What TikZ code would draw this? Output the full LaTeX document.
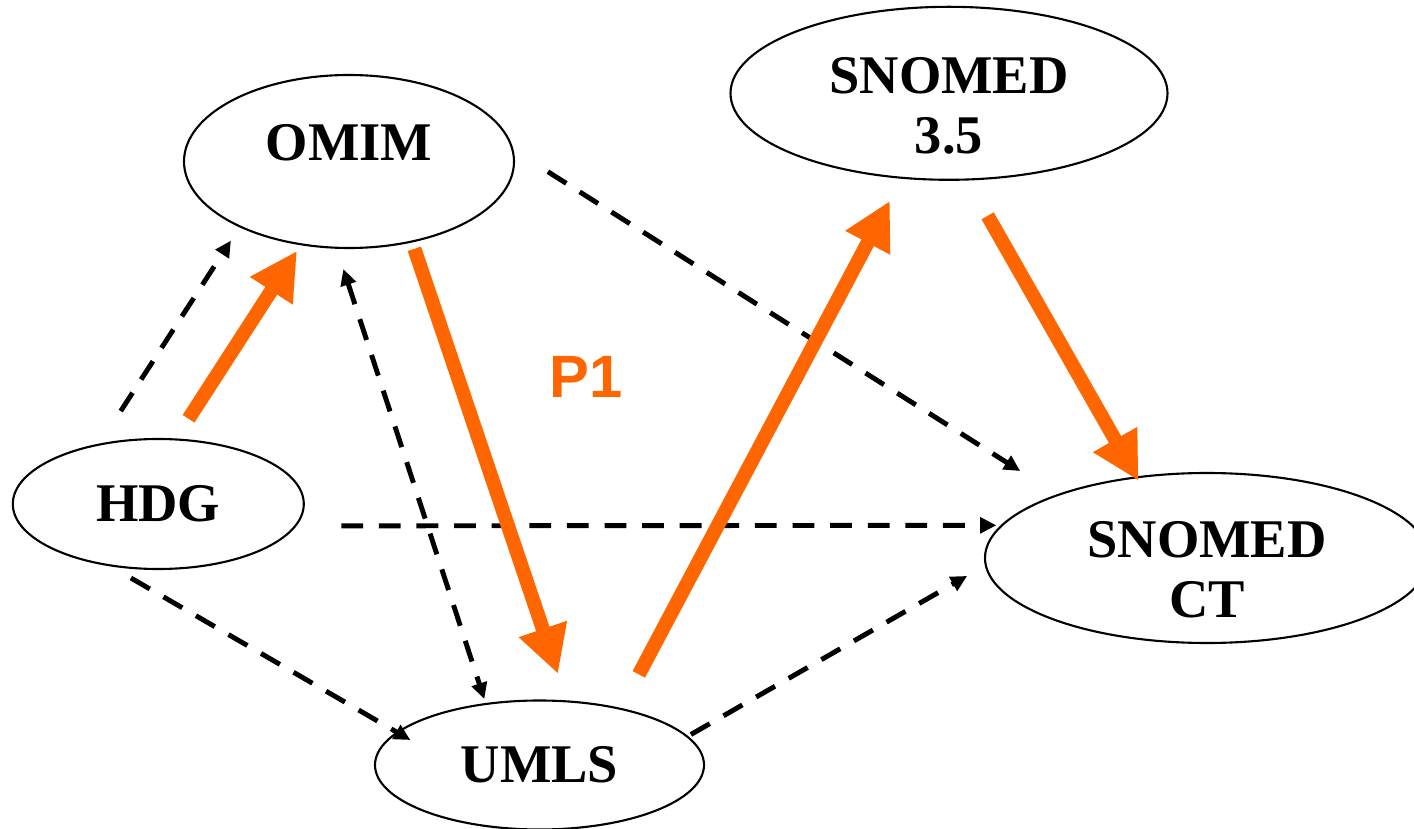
\documentclass[tikz,border=0pt]{standalone}
\usepackage{fontspec}
\setmainfont{Liberation Serif}
\setsansfont{Liberation Sans}
\usepackage{tikz}
\usetikzlibrary{arrows.meta,shapes.geometric}
\definecolor{porange}{RGB}{255,102,0}

\begin{document}
\begin{tikzpicture}[
  ell/.style={ellipse, draw=black, line width=0.6pt, inner sep=0pt, align=center,
    font=\fontsize{15.5}{17}\selectfont\bfseries},
  twoline/.style={text height=34pt, text depth=0pt},
  path1/.style={draw=porange, line width=4pt, -{Triangle[length=13.5pt,width=13.5pt]}},
  map/.style={draw=black, line width=1.4pt, dash pattern=on 6.2pt off 4.5pt,
    >={Triangle[length=4.6pt,width=4.4pt]}, ->}]
\useasboundingbox (0,0) rectangle (14.14,8.28);
\node[ell, minimum width=3.30cm, minimum height=1.73cm, text height=10.3pt, text depth=11.1pt] (omim) at (3.49,6.665) {OMIM};
\node[ell, twoline, minimum width=4.37cm, minimum height=1.73cm] (snomedb) at (9.49,7.347) {SNOMED\\3.5};
\node[ell, minimum width=2.91cm, minimum height=1.30cm] (hdg) at (1.583,3.24) {HDG};
\node[ell, twoline, minimum width=4.44cm, minimum height=1.70cm] (snomedct) at (12.07,2.70) {SNOMED\\CT};
\node[ell, minimum width=3.29cm, minimum height=1.29cm] (umls) at (5.395,0.63) {UMLS};
\node[font=\sffamily\bfseries\fontsize{17}{20}\selectfont, text=porange] (p1) at (5.865,4.515) {P1};
% black dashed mappings
\draw[map, shorten <=0.385cm, shorten >=0.158cm] (hdg.134) -- (omim.211);
\draw[map, <->, shorten <=0.213cm, shorten >=0.042cm] (omim.262) -- (umls.131);
\draw[map, shorten <=0.406cm, shorten >=0.435cm] (omim.4) -- (snomedct.157);
\draw[map, shorten <=0.447cm, shorten >=0.043cm] (hdg.-9) -- (snomedct.171);
\draw[map, shorten <=0.228cm, shorten >=-0.16cm] (hdg.233) -- (umls.167);
\draw[map, shorten <=0.032cm, shorten >=0.205cm] (umls.11) -- (snomedct.182);
% orange path P1
\draw[path1, shorten <=0.234cm, shorten >=0.067cm] (hdg.75) -- (omim.240);
\draw[path1, shorten <=0.067cm, shorten >=0.279cm] (omim.-52) -- (umls.67);
\draw[path1, shorten <=0.38cm, shorten >=0.25cm] (umls.35) -- (snomedb.241);
\draw[path1, shorten <=0.406cm, shorten >=-0.05cm] (snomedb.-78) -- (snomedct.131);
\end{tikzpicture}
\end{document}
